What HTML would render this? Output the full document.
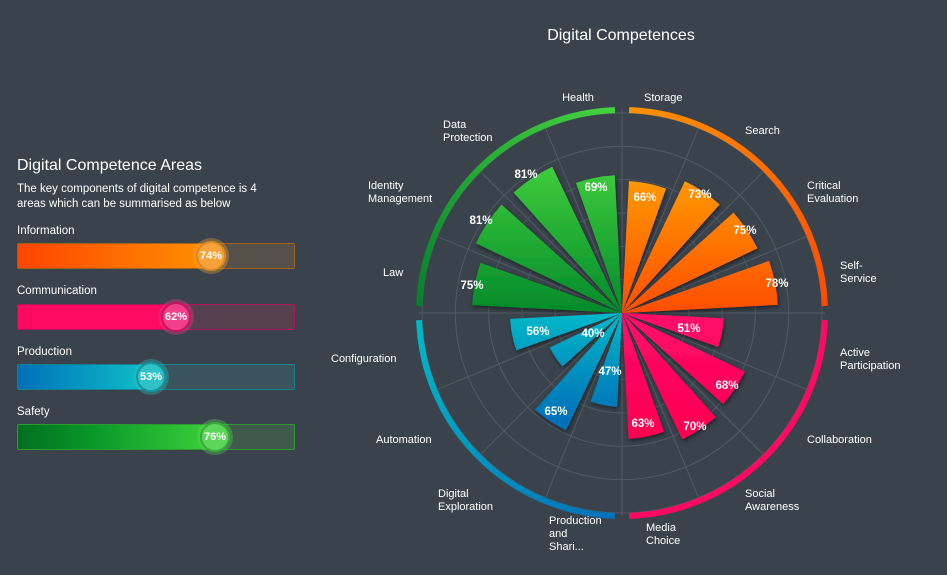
<!DOCTYPE html>
<html><head><meta charset="utf-8"><style>
body{margin:0;width:947px;height:575px;background:#3a434c;font-family:"Liberation Sans",sans-serif;color:#fff;overflow:hidden;position:relative}
.t{position:absolute;white-space:nowrap}
.bar{position:absolute;left:17px;width:278px;height:26px;border-radius:2px;box-sizing:border-box;border:1px solid}
.fill{position:absolute;left:0;top:0;bottom:0;border-radius:1px}
.knob{position:absolute;top:-3px;width:30px;height:30px;border-radius:50%;box-sizing:border-box;font-size:11px;line-height:26px;text-align:center;font-weight:bold}
svg text{font-family:"Liberation Sans",sans-serif;fill:#fff;font-size:11px}
.p{font-size:11.5px;font-weight:bold;text-anchor:middle;dominant-baseline:middle}
</style></head><body>
<div class="t" style="left:17px;top:157px;font-size:16px">Digital Competence Areas</div>
<div class="t" style="left:17px;top:182px;font-size:11.5px;line-height:15px">The key components of digital competence is 4<br>areas which can be summarised as below</div>
<div class="t" style="left:17px;top:225px;font-size:11.5px">Information</div>
<div class="bar" style="top:243px;border-color:#a0621e;background:#55504a"><div class="fill" style="width:193px;background:linear-gradient(90deg,#ff4500,#ff9000)"></div><div class="knob" style="left:178px;background:#f7a33a;border:2px solid #d98a20;box-shadow:0 0 0 3px rgba(247,163,58,.35)">74%</div></div>
<div class="t" style="left:17px;top:285px;font-size:11.5px">Communication</div>
<div class="bar" style="top:304px;border-color:#b0155a;background:#56404f"><div class="fill" style="width:158px;background:#ff0a62"></div><div class="knob" style="left:143px;background:#f0408a;border:2px solid #c81560;box-shadow:0 0 0 3px rgba(240,64,138,.35)">62%</div></div>
<div class="t" style="left:17px;top:346px;font-size:11.5px">Production</div>
<div class="bar" style="top:364px;border-color:#17808e;background:#3a535c"><div class="fill" style="width:133px;background:linear-gradient(90deg,#0070b8,#10c0c8)"></div><div class="knob" style="left:118px;background:#2ec2c6;border:2px solid #18949c;box-shadow:0 0 0 3px rgba(46,194,198,.35)">53%</div></div>
<div class="t" style="left:17px;top:406px;font-size:11.5px">Safety</div>
<div class="bar" style="top:424px;border-color:#2e9a30;background:#3f5a4a"><div class="fill" style="width:197px;background:linear-gradient(90deg,#02701f,#0a9a2a 40%,#3ed03a)"></div><div class="knob" style="left:182px;background:#5cd65a;border:2px solid #3aaa3a;box-shadow:0 0 0 3px rgba(92,214,90,.35)">76%</div></div>

<svg width="947" height="575" style="position:absolute;left:0;top:0">
<defs>
<linearGradient id="go" gradientUnits="userSpaceOnUse" x1="0" y1="180" x2="0" y2="313"><stop offset="0" stop-color="#ff9800"/><stop offset="1" stop-color="#ff4d00"/></linearGradient>
<linearGradient id="gg" gradientUnits="userSpaceOnUse" x1="0" y1="150" x2="0" y2="313"><stop offset="0" stop-color="#45d43e"/><stop offset="1" stop-color="#038a2b"/></linearGradient>
<linearGradient id="gp" gradientUnits="userSpaceOnUse" x1="0" y1="313" x2="0" y2="440"><stop offset="0" stop-color="#ff0a6a"/><stop offset="1" stop-color="#ff0050"/></linearGradient>
<linearGradient id="gb" gradientUnits="userSpaceOnUse" x1="0" y1="313" x2="0" y2="420"><stop offset="0" stop-color="#00b8c8"/><stop offset="1" stop-color="#0070b8"/></linearGradient>
<linearGradient id="ag" gradientUnits="userSpaceOnUse" x1="420" y1="313" x2="620" y2="113"><stop offset="0" stop-color="#02802a"/><stop offset="1" stop-color="#45d43e"/></linearGradient>
<linearGradient id="ao" gradientUnits="userSpaceOnUse" x1="622" y1="113" x2="822" y2="313"><stop offset="0" stop-color="#ff9200"/><stop offset="1" stop-color="#ff4a00"/></linearGradient>
<linearGradient id="ab" gradientUnits="userSpaceOnUse" x1="420" y1="320" x2="620" y2="515"><stop offset="0" stop-color="#00b8c8"/><stop offset="1" stop-color="#0070b8"/></linearGradient>
<filter id="sh" x="-20%" y="-20%" width="140%" height="140%"><feDropShadow dx="1" dy="2" stdDeviation="2" flood-color="#000" flood-opacity="0.5"/></filter>
</defs>
<text x="621" y="40" style="font-size:16px" text-anchor="middle">Digital Competences</text>
<g id="grid" stroke="#515a63" stroke-width="1" fill="none"></g>
<g id="arcs" fill="none" stroke-width="6"></g>
<g id="bars" filter="url(#sh)"></g>
<g>
<text class="p" x="645" y="198">66%</text><text class="p" x="700" y="195">73%</text><text class="p" x="745" y="231">75%</text><text class="p" x="777" y="284">78%</text>
<text class="p" x="689" y="329">51%</text><text class="p" x="727" y="386">68%</text><text class="p" x="695" y="427">70%</text><text class="p" x="643" y="424">63%</text>
<text class="p" x="610" y="372">47%</text><text class="p" x="556" y="412">65%</text><text class="p" x="593" y="334">40%</text><text class="p" x="538" y="332">56%</text>
<text class="p" x="472" y="286">75%</text><text class="p" x="481" y="221">81%</text><text class="p" x="526" y="175">81%</text><text class="p" x="596" y="188">69%</text>
</g>
<g>
<text x="578" y="101" text-anchor="middle">Health</text>
<text x="644" y="101">Storage</text>
<text x="745" y="134">Search</text>
<text x="807" y="189">Critical</text><text x="807" y="202">Evaluation</text>
<text x="840" y="269">Self-</text><text x="840" y="282">Service</text>
<text x="840" y="356">Active</text><text x="840" y="369">Participation</text>
<text x="807" y="443">Collaboration</text>
<text x="745" y="497">Social</text><text x="745" y="510">Awareness</text>
<text x="646" y="531">Media</text><text x="646" y="544">Choice</text>
<text x="549" y="524">Production</text><text x="549" y="537">and</text><text x="549" y="550">Shari...</text>
<text x="438" y="497">Digital</text><text x="438" y="510">Exploration</text>
<text x="376" y="443">Automation</text>
<text x="331" y="362">Configuration</text>
<text x="383" y="276">Law</text>
<text x="368" y="189">Identity</text><text x="368" y="202">Management</text>
<text x="443" y="128">Data</text><text x="443" y="141">Protection</text>
</g>
</svg>
<script>
var cx=622,cy=313,NS="http://www.w3.org/2000/svg";
function pt(r,a){a=(a-90)*Math.PI/180;return [cx+r*Math.cos(a),cy+r*Math.sin(a)];}
function el(t,at,p){var e=document.createElementNS(NS,t);for(var k in at)e.setAttribute(k,at[k]);p.appendChild(e);}
var g=document.getElementById('grid');
for(var i=1;i<=6;i++)el('circle',{cx:cx,cy:cy,r:i*33.33},g);
for(var i=0;i<16;i++){var p=pt(203,i*22.5);el('line',{x1:cx,y1:cy,x2:p[0],y2:p[1]},g);}
function arc(r,a0,a1){var p0=pt(r,a0),p1=pt(r,a1);return 'M'+p0+' A'+r+','+r+' 0 0 1 '+p1;}
var A=document.getElementById('arcs');
[['url(#ao)',2,88],['#ff0a62',92,178],['url(#ab)',182,268],['url(#ag)',272,358]].forEach(function(x){el('path',{d:arc(203,x[1],x[2]),stroke:x[0]},A);});
var v=[66,73,75,78,51,68,70,63,47,65,40,56,75,81,81,69];
var c=['go','go','go','go','gp','gp','gp','gp','gb','gb','gb','gb','gg','gg','gg','gg'];
var B=document.getElementById('bars');
v.forEach(function(val,i){var r=val*2,a0=i*22.5+3,a1=i*22.5+19.5;var p0=pt(r,a0),p1=pt(r,a1);
el('path',{d:'M'+cx+','+cy+' L'+p0+' A'+r+','+r+' 0 0 1 '+p1+' Z',fill:'url(#'+c[i]+')'},B);});
</script>
</body></html>
